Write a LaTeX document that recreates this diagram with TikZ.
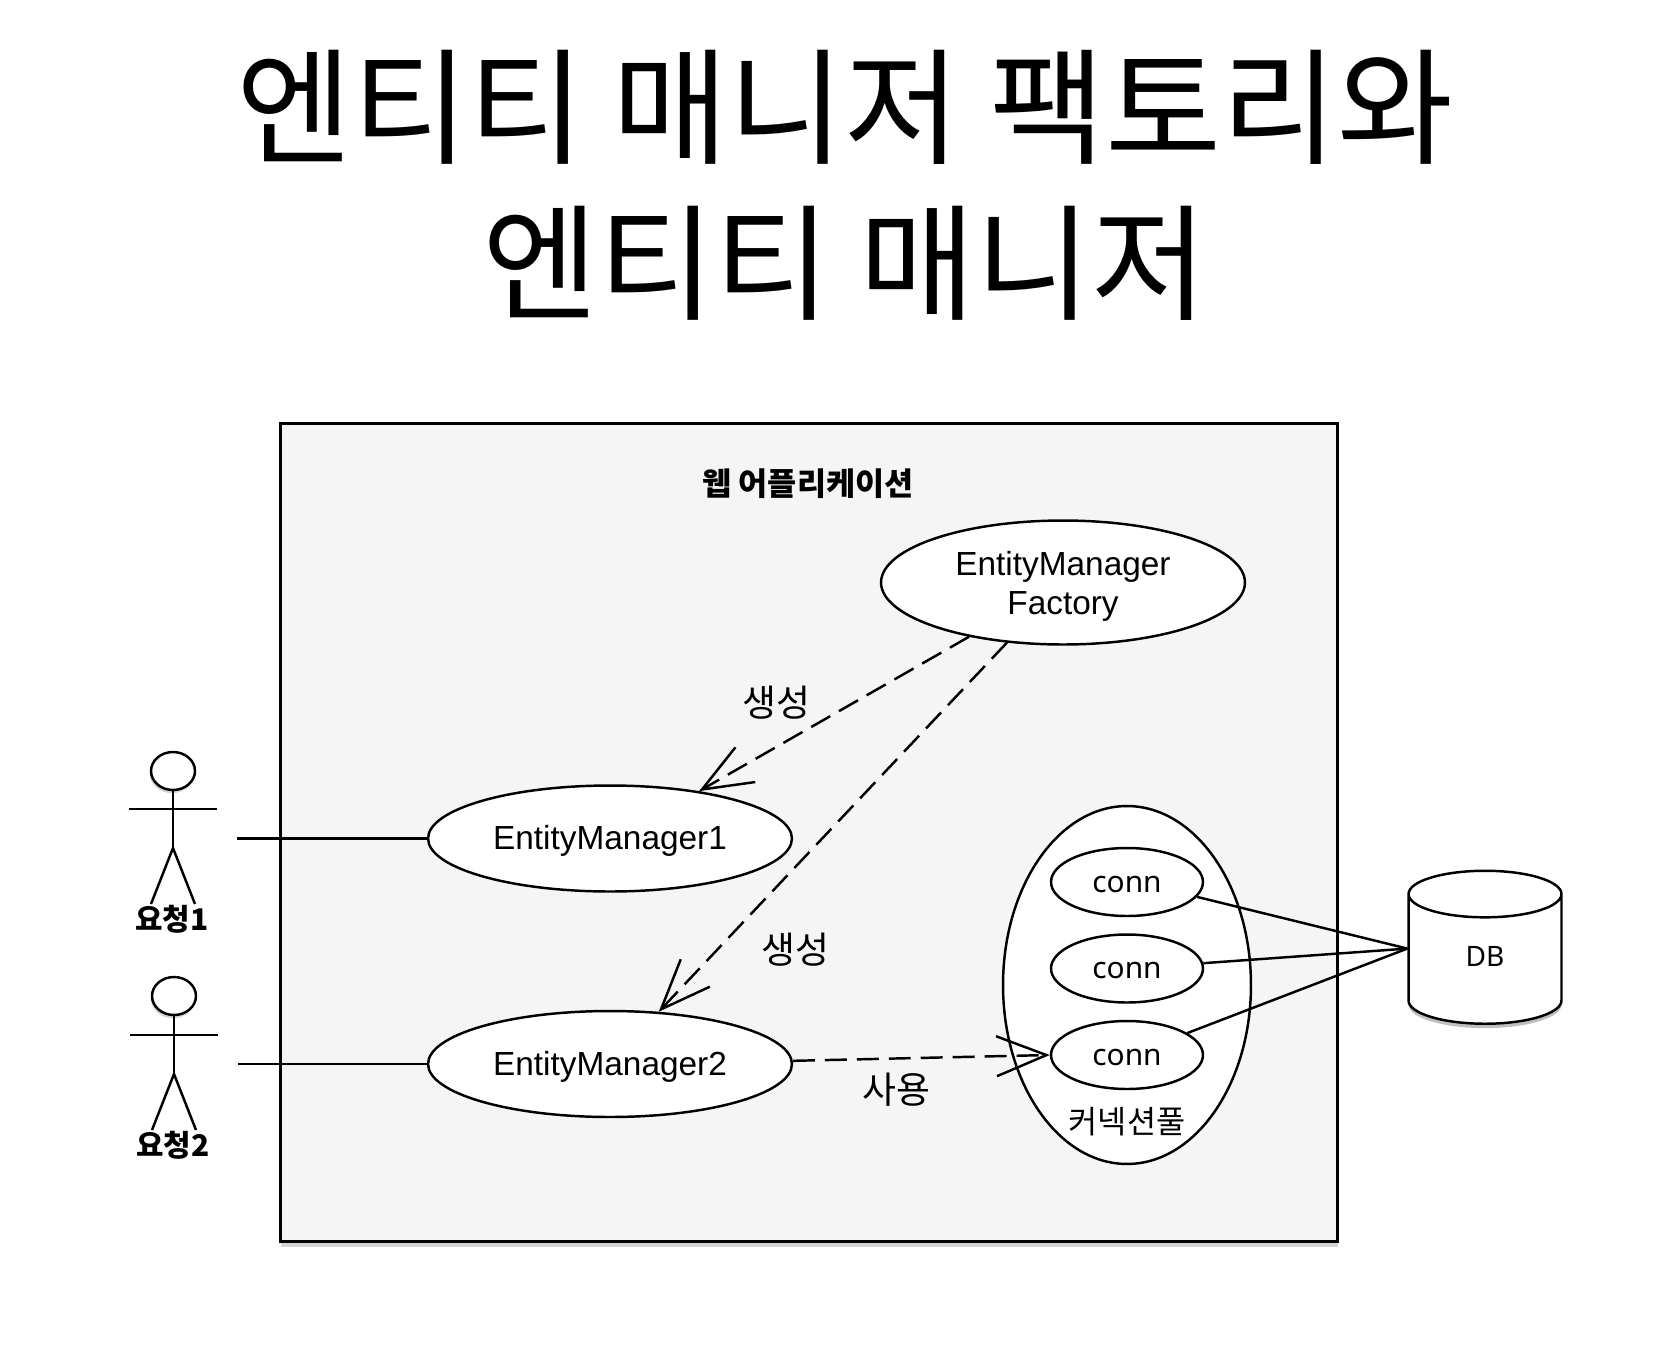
\documentclass[tikz,border=0pt]{standalone}
\usepackage{xcolor}
\usepackage{fontspec}
\setmainfont{Liberation Sans}
\newfontfamily\korean{Noto Sans CJK KR}
\newfontfamily\connfont{Noto Sans}
\usepackage{tikz}
\usetikzlibrary{arrows.meta,shapes.geometric,shadows}
\definecolor{boxgray}{HTML}{F5F5F5}

\begin{document}
\begin{tikzpicture}[
  x=0.02cm, y=-0.02cm,
  usecase/.style={draw, ellipse, fill=white, line width=1.4pt, inner sep=0pt, align=center, text height=17pt, text depth=4pt, font=\fontsize{19}{22}\selectfont},
  connnode/.style={draw, ellipse, fill=white, line width=1.4pt, inner sep=0pt, minimum width=3.04cm, minimum height=1.36cm, text height=11.6pt, text depth=0pt, font=\connfont\fontsize{17}{20}\selectfont},
  webbox/.style={draw, line width=1.7pt, fill=boxgray, drop shadow={shadow xshift=0.3pt, shadow yshift=-3pt, opacity=0.35}},
  actorhead/.style={draw, ellipse, fill=white, line width=1.4pt, inner sep=0pt, minimum width=0.88cm, minimum height=0.76cm, drop shadow={shadow xshift=-0.6pt, shadow yshift=-1.8pt, opacity=0.35}},
  label/.style={font=\korean\fontsize{21}{24}\selectfont},
  boldlabel/.style={font=\korean\bfseries\fontsize{17}{20}\selectfont},
  wire/.style={line width=1.4pt},
  arrow/.style={line width=1.4pt, dash pattern=on 12.5pt off 5.7pt, -{Straight Barb[length=1cm, width=0.8cm, line width=1.4pt]}}
]
\useasboundingbox (0,0) rectangle (1658,1370);

\node[font=\korean\fontsize{71.8}{89}\selectfont, align=center] (title) at (845,185) {엔티티 매니저 팩토리와\\엔티티 매니저};

\node[webbox, minimum width=21.16cm, minimum height=16.38cm, inner sep=0pt] (web) at (809,832.5) {};
\node[font=\korean\bfseries\fontsize{18}{22}\selectfont] (webtitle) at (808,484) {웹 어플리케이션};

\node[usecase, text height=40.4pt, minimum width=7.28cm, minimum height=2.48cm] (factory) at (1063,582.5) {EntityManager\\Factory};
\node[usecase, minimum width=7.28cm, minimum height=2.12cm] (em1) at (610,838.5) {EntityManager1};
\node[usecase, minimum width=7.28cm, minimum height=2.12cm] (em2) at (610,1064) {EntityManager2};

\node[draw, ellipse, fill=white, line width=1.4pt, minimum width=4.96cm, minimum height=7.16cm] (pool) at (1127,985) {};
\node[connnode] (conn1) at (1127,882) {conn};
\node[connnode] (conn2) at (1127,968.5) {conn};
\node[connnode] (conn3) at (1127,1055) {conn};
\node[font=\korean\fontsize{18}{22}\selectfont] (poollabel) at (1127,1122) {커넥션풀};

\node[draw, cylinder, shape border rotate=90, aspect=1.2, fill=white, line width=1.4pt, inner sep=0pt,
  minimum width=3.06cm, minimum height=3.06cm, text depth=3pt, font=\connfont\fontsize{16}{20}\selectfont,
  drop shadow={shadow xshift=0pt, shadow yshift=-2.5pt, opacity=0.5}] (db) at (1485,959.5) {DB};

% actors
\node[actorhead] (head1) at (173,771) {};
\coordinate (hip1) at (173,848);
\coordinate (arml1) at (129,809);
\coordinate (armr1) at (217,809);
\coordinate (legl1) at (151,904);
\coordinate (legr1) at (195,904);
\coordinate (hand1) at (237,838.5);
\node[boldlabel] (req1) at (172,919) {요청1};
\node[actorhead] (head2) at (174,996) {};
\coordinate (hip2) at (174,1074);
\coordinate (arml2) at (130,1035);
\coordinate (armr2) at (218,1035);
\coordinate (legl2) at (152,1130);
\coordinate (legr2) at (196,1130);
\coordinate (hand2) at (238,1064);
\node[boldlabel] (req2) at (173,1145) {요청2};

\draw[wire] (head1) -- (hip1);
\draw[wire] (arml1) -- (armr1);
\draw[wire] (legl1) -- (hip1) -- (legr1);
\draw[wire] (head2) -- (hip2);
\draw[wire] (arml2) -- (armr2);
\draw[wire] (legl2) -- (hip2) -- (legr2);

\draw[wire] (hand1) -- (em1.west);
\draw[wire] (hand2) -- (em2.west);

\draw[arrow] (factory.210) -- (em1.28);
\draw[arrow] (factory.227) -- (em2.47);
\draw[arrow] (em2.1) -- (conn3.west);

\draw[wire] (conn1.-12) -- (db.172);
\draw[wire] (conn2.4) -- (db.172);
\draw[wire] (conn3.20) -- (db.172);

\node[label] (create1) at (776,703) {생성};
\node[label] (create2) at (795,950) {생성};
\node[label] (use) at (896,1090) {사용};

\end{tikzpicture}
\end{document}
